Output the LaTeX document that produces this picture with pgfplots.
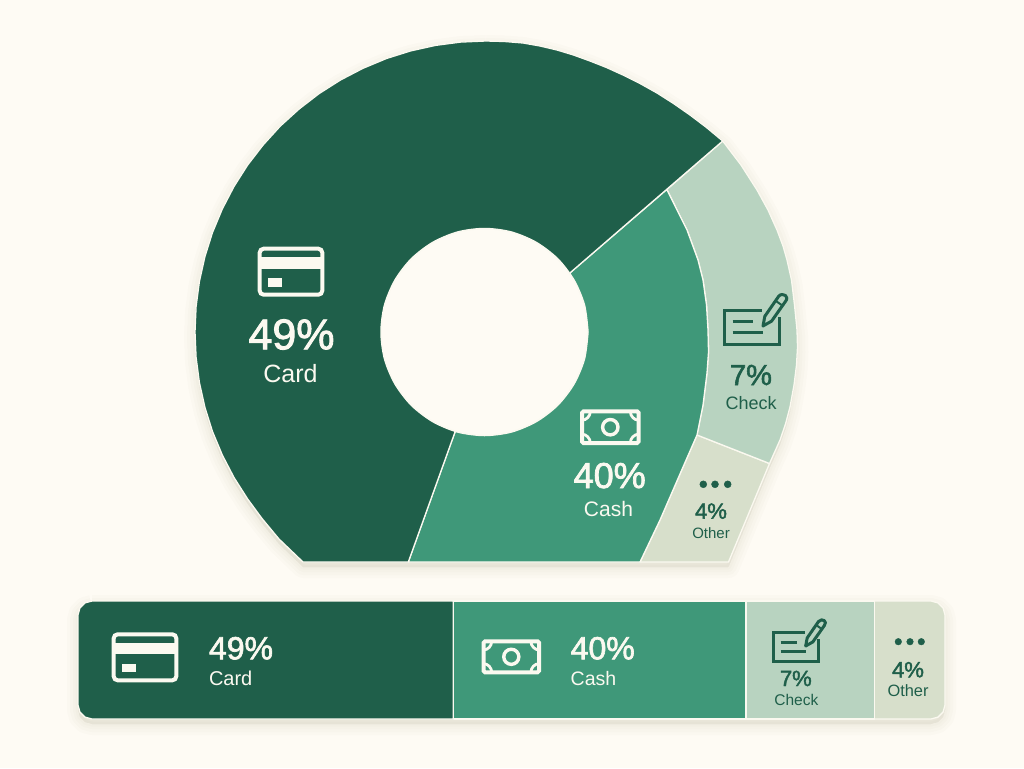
\documentclass[border=0pt]{standalone}
\usepackage{fontspec}
\setmainfont{Liberation Sans}
\newfontfamily\semib[FakeBold=2]{Liberation Sans}
\usepackage{pgfplots}
\usepackage{pgfplotstable}
\pgfplotsset{compat=1.18}

\definecolor{bg}{HTML}{FEFBF4}
\definecolor{edge}{HTML}{FBF9F0}
\definecolor{cardc}{HTML}{1F5F4A}
\definecolor{cashc}{HTML}{3F9879}
\definecolor{checkc}{HTML}{B8D3C0}
\definecolor{otherc}{HTML}{D7DFCB}
\definecolor{shade}{HTML}{5A4A20}

% outlines in picture pixels, y downwards
\pgfplotstableread{
x y
486 41
504.5 41.5
523 43
540 46
557 50
573.5 55
590 61
606.5 67.5
623 75
640 83.5
657 93
673.5 103.5
690 115
706.5 127.5
722.7 141
741 165
757 190
768 210
777 230
783 246
787 260
791.5 280
794.5 305
797 330
797.5 347
796.5 365
794 385
790 407
785.5 424
780 440
769.5 463.5
728.5 562
303 562
279 539
262 518.5
247.6 498.9
234 477.5
222.3 455
212.5 431.5
204.9 407.3
199.4 382.5
196.1 357.4
195 332
196.1 306.6
199.4 281.5
204.9 256.7
212.5 232.5
222.3 209
234 186.5
247.6 165.1
263.1 145
280.2 126.2
299 109.1
319.1 93.6
340.5 80
363 68.3
386.5 58.5
410.7 50.9
435.5 45.4
460.6 42.1
486 41
}\tdonut

\pgfplotstableread{
x y
571 272
722.7 141
706.5 127.5
690 115
673.5 103.5
657 93
640 83.5
623 75
606.5 67.5
590 61
573.5 55
557 50
540 46
523 43
504.5 41.5
486 41
460.6 42.1
435.5 45.4
410.7 50.9
386.5 58.5
363 68.3
340.5 80
319.1 93.6
299 109.1
280.2 126.2
263.1 145
247.6 165.1
234 186.5
222.3 209
212.5 232.5
204.9 256.7
199.4 281.5
196.1 306.6
195 332
196.1 357.4
199.4 382.5
204.9 407.3
212.5 431.5
222.3 455
234 477.5
247.6 498.9
262 518.5
279 539
303 562
408.3 562
455 432
571 272
}\tcard

\pgfplotstableread{
x y
455 432
408.3 562
640 562
660 520
683 467
697 435
703 405
707 373
708.5 352
708 330
706.5 305
703 280
698 260
687 230
678 212
666.8 189.5
571 272
455 432
}\tcash

\pgfplotstableread{
x y
722.7 141
741 165
757 190
768 210
777 230
783 246
787 260
791.5 280
794.5 305
797 330
797.5 347
796.5 365
794 385
790 407
785.5 424
780 440
769.5 463.5
697 435
703 405
707 373
708.5 352
708 330
706.5 305
703 280
698 260
687 230
678 212
666.8 189.5
722.7 141
}\tcheck

\pgfplotstableread{
x y
697 435
769.5 463.5
728.5 562
640 562
660 520
683 467
697 435
}\tother

\pgfplotstableread{
x y
588 332
584.5 305.2
574.1 280.25
557.7 258.8
536.25 242.4
511.3 232
484.5 228.5
457.7 232
432.75 242.4
411.3 258.8
394.9 280.25
384.5 305.2
381 332
384.5 358.8
394.9 383.75
411.3 405.2
432.75 421.6
457.7 432
484.5 435.5
511.3 432
536.25 421.6
557.7 405.2
574.1 383.75
584.5 358.8
588 332
}\thole

\pgfplotstableread{
x y
92 601
85 602.9
79.9 608
78 615
78 705
79.9 712
85 717.1
92 719
453.3 719
453.3 601
92 601
}\bcard

\pgfplotstableread{
x y
453.3 601
746 601
746 719
453.3 719
453.3 601
}\bcash

\pgfplotstableread{
x y
746 601
874.3 601
874.3 719
746 719
746 601
}\bcheck

\pgfplotstableread{
x y
874.3 601
931 601
938 602.9
943.1 608
945 615
945 705
943.1 712
938 717.1
931 719
874.3 719
874.3 601
}\bother

\pgfplotstableread{
x y
92 601
85 602.9
79.9 608
78 615
78 705
79.9 712
85 717.1
92 719
931 719
938 717.1
943.1 712
945 705
945 615
943.1 608
938 602.9
931 601
92 601
}\bbar

% icons: #1 x, #2 y, #3 scale, #4 colour
\newcommand\cardicon[4]{
  \begin{scope}[shift={(axis cs:#1,#2)},x=#3pt,y=-#3pt]
    \draw[#4,line width=4pt,rounded corners=4pt] (-31.3,-23) rectangle (31.3,23);
    \fill[#4] (-31.3,-14.4) rectangle (31.3,-3);
    \fill[#4] (-22.7,6.3) rectangle (-9.3,15);
  \end{scope}
}
\newcommand\cashicon[4]{
  \begin{scope}[shift={(axis cs:#1,#2)},x=#3pt,y=-#3pt]
    \draw[#4,line width=4pt,rounded corners=1.5pt] (-28.3,-15.8) rectangle (28.3,15.8);
    \draw[#4,line width=3.4pt] (0,0) circle[radius=7.7];
    \draw[#4,line width=2.8pt] (-28.3,-7) .. controls (-24,-7) and (-20,-11) .. (-20,-15.8);
    \draw[#4,line width=2.8pt] (28.3,-7) .. controls (24,-7) and (20,-11) .. (20,-15.8);
    \draw[#4,line width=2.8pt] (-28.3,7) .. controls (-24,7) and (-20,11) .. (-20,15.8);
    \draw[#4,line width=2.8pt] (28.3,7) .. controls (24,7) and (20,11) .. (20,15.8);
  \end{scope}
}
\newcommand\checkicon[5]{
  \begin{scope}[shift={(axis cs:#1,#2)},x=#3pt,y=-#3pt]
    \draw[#4,line width=3pt,line join=miter] (37.7,0) -- (0,0) -- (0,34.3) -- (55,34.3) -- (55,7);
    \draw[#4,line width=3pt] (8.7,11.7) -- (28.7,11.7) (8.7,22.3) -- (39.3,22.3);
    \draw[#4,fill=#5,line width=3pt,line join=round] (39,16) -- (40.8,6.3) -- (54.5,-13.5)
      .. controls (56.5,-16.5) and (60,-15.5) .. (61.5,-14.5)
      .. controls (63,-13.5) and (63.5,-11) .. (61.4,-8.5) -- (47.6,11.1) -- cycle;
    \draw[#4,line width=2pt] (51.5,-9.3) -- (58.3,-4.5);
  \end{scope}
}

\pgfplotsset{
  wedge/.style={draw=edge,line width=1.3pt,line join=round},
  halo/.style={draw=shade,fill=shade,opacity=0.014,line width=#1,line join=round,yshift=-5pt},
}

\begin{document}
\begin{tikzpicture}
\begin{axis}[
  scale only axis,
  width=1024pt,
  height=768pt,
  xmin=0, xmax=1024,
  ymin=0, ymax=768,
  y dir=reverse,
  hide axis,
  clip=false,
]
\fill[bg] (axis cs:0,0) rectangle (axis cs:1024,768);

% soft shadows
\addplot[halo=22pt] table {\tdonut};
\addplot[halo=16pt] table {\tdonut};
\addplot[halo=10pt] table {\tdonut};
\addplot[halo=5pt] table {\tdonut};
\addplot[halo=22pt] table {\bbar};
\addplot[halo=16pt] table {\bbar};
\addplot[halo=10pt] table {\bbar};
\addplot[halo=5pt] table {\bbar};

% donut
\addplot[wedge,fill=otherc] table {\tother};
\addplot[wedge,fill=checkc] table {\tcheck};
\addplot[wedge,fill=cashc] table {\tcash};
\addplot[wedge,fill=cardc] table {\tcard};
\addplot[draw=edge,line width=1.5pt,fill=bg,smooth,line cap=round] table {\thole};

% bar
\addplot[wedge,fill=otherc] table {\bother};
\addplot[wedge,fill=checkc] table {\bcheck};
\addplot[wedge,fill=cashc] table {\bcash};
\addplot[wedge,fill=cardc] table {\bcard};

% dots of Other
\addplot[only marks,mark=*,mark size=3.5pt,mark options={draw=cardc,fill=cardc}] coordinates {(703.3,484.3) (715,484.3) (727.7,484.3)};
\addplot[only marks,mark=*,mark size=3.3pt,mark options={draw=cardc,fill=cardc}] coordinates {(898.3,641.7) (910,641.7) (921.3,641.7)};

\cardicon{291}{271.7}{1}{edge}
\cardicon{145}{657.3}{1}{edge}
\cashicon{610.3}{427.2}{1}{edge}
\cashicon{511.3}{656.8}{0.98}{edge}
\checkicon{724}{310}{1}{cardc}{checkc}
\checkicon{773.3}{632.7}{0.83}{cardc}{checkc}

% donut labels
\tikzset{lab/.style={inner sep=0pt,outer sep=0pt,anchor=base},
         labl/.style={inner sep=0pt,outer sep=0pt,anchor=base west}}
\node[lab,text=edge] at (axis cs:291.5,349.3) {\fontsize{43}{43}\selectfont\semib 49\%};
\node[lab,text=edge] at (axis cs:290.5,382.3) {\fontsize{25}{25}\selectfont Card};
\node[lab,text=edge] at (axis cs:609.7,488) {\fontsize{36}{36}\selectfont\semib 40\%};
\node[lab,text=edge] at (axis cs:608.5,516) {\fontsize{21}{21}\selectfont Cash};
\node[lab,text=cardc] at (axis cs:751,385) {\fontsize{29}{29}\selectfont\semib 7\%};
\node[lab,text=cardc] at (axis cs:751.2,409) {\fontsize{18}{18}\selectfont Check};
\node[lab,text=cardc] at (axis cs:711,518.7) {\fontsize{22}{22}\selectfont\semib 4\%};
\node[lab,text=cardc] at (axis cs:711,538) {\fontsize{15}{15}\selectfont Other};

% bar labels
\node[labl,text=edge] at (axis cs:209,659.3) {\fontsize{32}{32}\selectfont\semib 49\%};
\node[labl,text=edge] at (axis cs:209,685) {\fontsize{20}{20}\selectfont Card};
\node[labl,text=edge] at (axis cs:570.7,659.3) {\fontsize{32}{32}\selectfont\semib 40\%};
\node[labl,text=edge] at (axis cs:570.7,685) {\fontsize{19.5}{19.5}\selectfont Cash};
\node[lab,text=cardc] at (axis cs:795.8,686) {\fontsize{22}{22}\selectfont\semib 7\%};
\node[lab,text=cardc] at (axis cs:796.3,705) {\fontsize{15.5}{15.5}\selectfont Check};
\node[lab,text=cardc] at (axis cs:908,677.3) {\fontsize{22}{22}\selectfont\semib 4\%};
\node[lab,text=cardc] at (axis cs:908,696.7) {\fontsize{16.4}{16.4}\selectfont Other};
\end{axis}
\end{tikzpicture}
\end{document}
